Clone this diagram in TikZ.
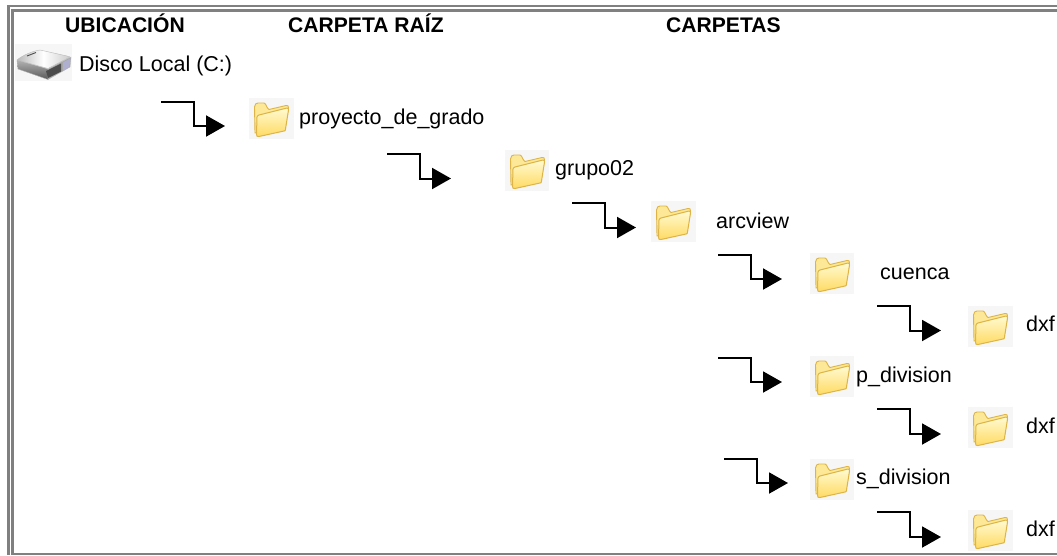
\documentclass[tikz,border=0pt]{standalone}
\usepackage{fontspec}
\setmainfont{Liberation Sans}
\usetikzlibrary{arrows.meta}
\definecolor{framegray}{HTML}{808080}
\definecolor{iconbg}{HTML}{F6F6F6}
\definecolor{foldedge}{HTML}{DDB445}
\definecolor{foldtop}{HTML}{FFFAD0}
\definecolor{foldbot}{HTML}{FFDA62}
\definecolor{foldback}{HTML}{FCE896}
\tikzset{
  lbl/.style={anchor=base west,inner sep=0pt,font=\fontsize{21.5}{24}\selectfont},
  hdr/.style={anchor=base west,inner sep=0pt,font=\fontsize{21.1}{24}\selectfont\bfseries},
  link/.style={line width=2pt,black,-{Triangle[length=19pt,width=21pt]}},
  framebar/.style={fill=framegray,draw=none},
  folder/.style={anchor=north west,inner sep=0pt,minimum width=#1,minimum height=41pt,fill=iconbg},
  folder/.default=45pt,
  diskicon/.style={anchor=north west,inner sep=0pt,minimum width=57pt,minimum height=37pt,fill=iconbg}
}
\newcommand{\folderart}[1]{%
  \begin{scope}[shift={(#1.north west)},line join=round]
    \path[fill=foldback,draw=foldedge,line width=.9pt]
      (6,35) -- (5.5,9) .. controls (6,6) and (7,5) .. (9,5) -- (15,5)
      .. controls (17,5) and (18,11) .. (20,11.5) -- (37,7.5) .. controls (39,7) and (39.5,8) .. (39.5,10)
      -- (36,30) -- cycle;
    \path[top color=foldtop,bottom color=foldbot,draw=foldedge,line width=1pt]
      (10,17) -- (38,10) .. controls (39.5,10) and (39.5,11) .. (39.5,12) -- (36.5,31)
      .. controls (36.5,32.5) and (36,33) .. (35,33) -- (10,38.5) .. controls (8,39) and (7.5,38) .. (7.5,36)
      -- (8,19) .. controls (8,18) and (9,17.5) .. (10,17) -- cycle;
  \end{scope}}
\newcommand{\diskart}[1]{%
  \begin{scope}[shift={(#1.north west)},line join=round]
    \path[top color=gray!60,bottom color=black!65,draw=gray!60,line width=.4pt]
      (2,16) -- (33,25) -- (33,35.5) -- (3,25) -- cycle;
    \path[fill=gray!70,draw=gray!55,line width=.4pt]
      (33,25) -- (56,13) -- (55,23) -- (33,35.5) -- cycle;
    \path[fill=black!70] (31,27) -- (46,19.5) -- (46,27.5) -- (33,34) -- cycle;
    \path[fill=blue!25!gray!50] (48,18.5) -- (55.5,14) -- (54.5,22.5) -- (48,27) -- cycle;
    \path[left color=gray!55,right color=gray!40,middle color=white,draw=gray!55,line width=.4pt]
      (2,16) .. controls (8,11) and (18,7) .. (25,6) -- (52,12) .. controls (54,12.5) and (55,13) .. (55,13) -- (33,24.5) -- cycle;
    \path[draw=gray!60!black,line width=.9pt] (12,12) -- (21,8.5);
  \end{scope}}
\begin{document}
\begin{tikzpicture}[x=1pt,y=-1pt]
\useasboundingbox (0,0) rectangle (1057,555);
\fill[white] (0,0) rectangle (1057,555);
% frame
\path[framebar] (7,5) rectangle (1057,7.3);
\path[framebar] (7,5) rectangle (10,555);
\path[framebar] (11,9) rectangle (1057,12);
\path[framebar] (11,9) rectangle (14,555);
\path[framebar] (11,553) rectangle (1057,555);
% headers
\node[hdr] (h1) at (65,32.5) {UBICACIÓN};
\node[hdr] (h2) at (288,32.5) {CARPETA RAÍZ};
\node[hdr] (h3) at (666,32.5) {CARPETAS};
% icons
\node[diskicon] (disk) at (15,44) {};
\node[folder] (f1) at (249,98) {};
\node[folder=44pt] (f2) at (505,150) {};
\node[folder] (f3) at (651,201) {};
\node[folder=44pt] (f4) at (810,253) {};
\node[folder] (f5) at (968,306) {};
\node[folder=44pt] (f6) at (810,356) {};
\node[folder] (f7) at (968,407) {};
\node[folder=44pt] (f8) at (810,459) {};
\node[folder] (f9) at (968,510) {};
\diskart{disk}
\foreach \n in {f1,f2,f3,f4,f5,f6,f7,f8,f9}{\folderart{\n}}
% labels
\node[lbl] (t0) at (79,71) {Disco Local (C:)};
\node[lbl] (t1) at (299,124) {proyecto\_de\_grado};
\node[lbl] (t2) at (555,175) {grupo02};
\node[lbl] (t3) at (716,228) {arcview};
\node[lbl] (t4) at (880,279) {cuenca};
\node[lbl] (t5) at (1026,331) {dxf};
\node[lbl] (t6) at (856,382) {p\_division};
\node[lbl] (t7) at (1026,433) {dxf};
\node[lbl] (t8) at (856,484) {s\_division};
\node[lbl] (t9) at (1026,536) {dxf};
% connector ends
\coordinate (a1s) at (161,102); \coordinate (a1t) at (225,126);
\coordinate (a2s) at (387,154); \coordinate (a2t) at (451,178.5);
\coordinate (a3s) at (572,203); \coordinate (a3t) at (636,227.5);
\coordinate (a4s) at (718,254.5); \coordinate (a4t) at (782,279);
\coordinate (a5s) at (877,306); \coordinate (a5t) at (941,330.5);
\coordinate (a6s) at (718,358); \coordinate (a6t) at (782,382);
\coordinate (a7s) at (877,409); \coordinate (a7t) at (941,434);
\coordinate (a8s) at (724,459); \coordinate (a8t) at (788,483);
\coordinate (a9s) at (877,512); \coordinate (a9t) at (941,537);
\foreach \i in {1,...,9}{
  \draw[link] (a\i s) -- ++(32.5,0) |- (a\i t);
}
\end{tikzpicture}
\end{document}
